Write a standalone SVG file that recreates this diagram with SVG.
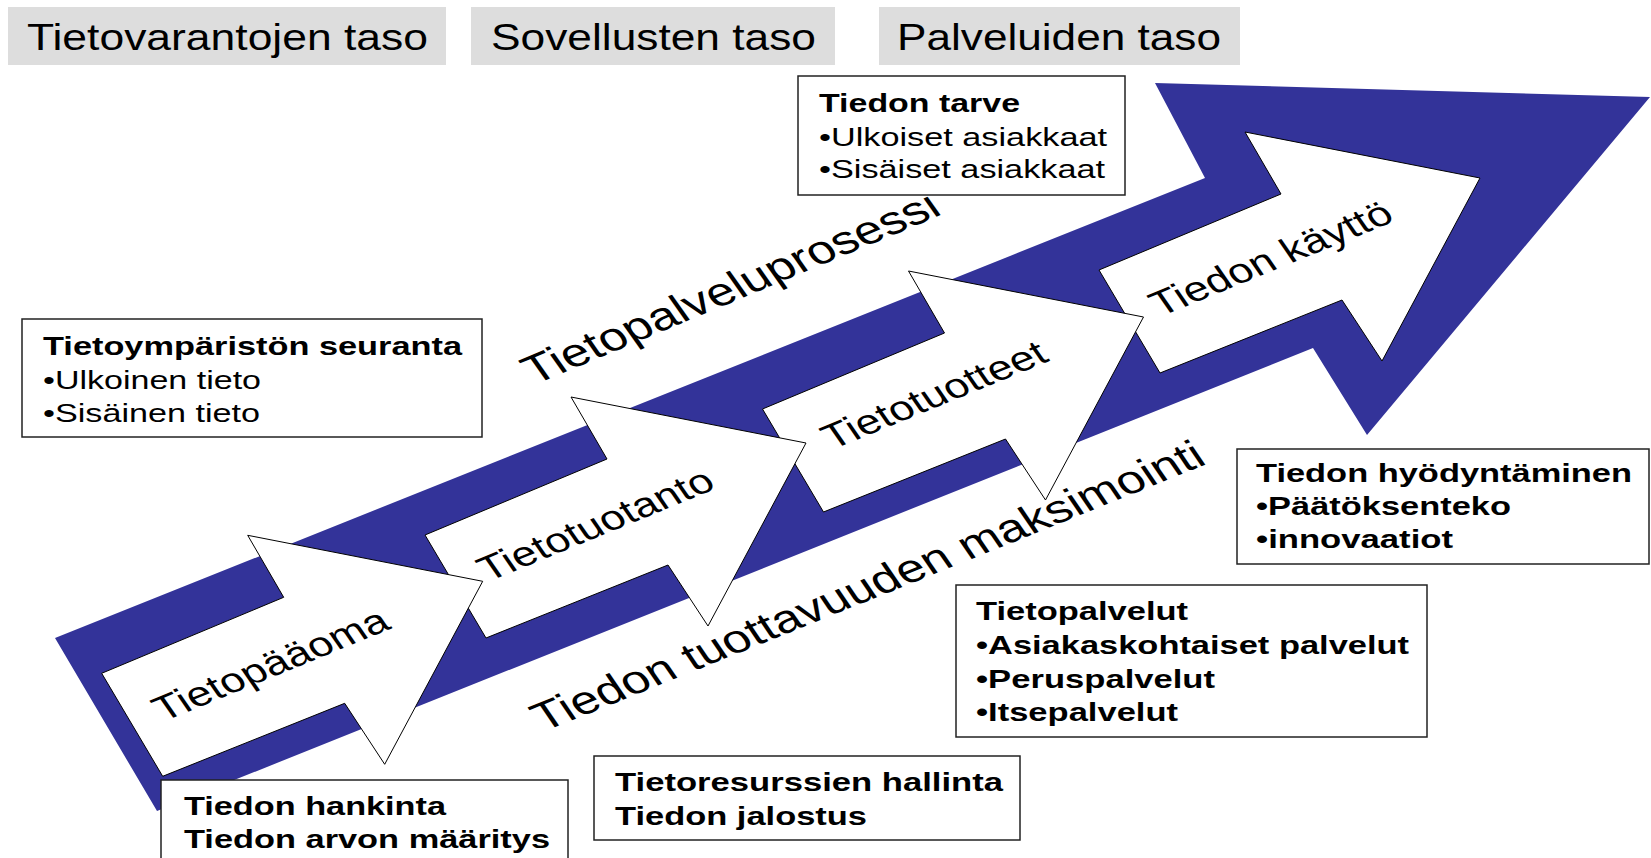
<svg xmlns="http://www.w3.org/2000/svg" xmlns:xlink="http://www.w3.org/1999/xlink" width="1651" height="858" viewBox="0 0 1651 858">
<style>
text{font-family:"Liberation Sans",Arial,sans-serif;fill:#000}
.lvl{fill:#dddddd}
.lvlt{font-size:36px}
.box{fill:#fff;stroke:#222;stroke-width:1.5}
.bt{font-size:26px}
.b{font-weight:bold}
.arr{fill:#fff;stroke:#000;stroke-width:1}
.al{font-size:34.5px}
.pl{font-size:39.5px}
.band{fill:#333399}
</style>
<defs>
<polygon id="arrowShape" points="0,0 182,-76 146,-138 381,-92 283,91 243,30 61,103"/>
</defs>
<rect width="1651" height="858" fill="#fff"/>

<g id="level-tietovarannot"><rect class="lvl" x="8" y="7" width="438" height="58"/><text class="lvlt" x="27" y="50" textLength="401" lengthAdjust="spacingAndGlyphs">Tietovarantojen taso</text></g>
<g id="level-sovellukset"><rect class="lvl" x="471" y="7" width="364" height="58"/><text class="lvlt" x="491" y="50" textLength="325" lengthAdjust="spacingAndGlyphs">Sovellusten taso</text></g>
<g id="level-palvelut"><rect class="lvl" x="879" y="7" width="361" height="58"/><text class="lvlt" x="897" y="50" textLength="324" lengthAdjust="spacingAndGlyphs">Palveluiden taso</text></g>

<g id="process-band">
<polygon class="band" points="55,638 1205,178 1155,83 1650,97 1367,435 1313,348 157,811"/>
</g>

<g id="connectors"/>

<g id="arrow-tiedon-kaytto">
<use xlink:href="#arrowShape" href="#arrowShape" class="arr" transform="translate(1099,270)"/>
<text class="al" transform="translate(1160,317) scale(1.3,1) rotate(-28)">Tiedon käyttö</text>
</g>
<g id="arrow-tietotuotteet">
<use xlink:href="#arrowShape" href="#arrowShape" class="arr" transform="translate(762.5,409)"/>
<text class="al" transform="translate(832,450) scale(1.3,1) rotate(-28)">Tietotuotteet</text>
</g>
<g id="arrow-tietotuotanto">
<use xlink:href="#arrowShape" href="#arrowShape" class="arr" transform="translate(425,535)"/>
<text class="al" transform="translate(488,582) scale(1.3,1) rotate(-28)">Tietotuotanto</text>
</g>
<g id="arrow-tietopaaoma">
<use xlink:href="#arrowShape" href="#arrowShape" class="arr" transform="translate(101.7,673.3)"/>
<text class="al" transform="translate(163,722) scale(1.3,1) rotate(-28)">Tietopääoma</text>
</g>

<g id="label-tietopalveluprosessi">
<text class="pl" transform="translate(534,385) scale(1.3,1) rotate(-28.5)">Tietopalveluprosessi</text>
</g>
<g id="label-tuottavuus">
<text class="pl" transform="translate(543,732) scale(1.3,1) rotate(-27.7)">Tiedon tuottavuuden maksimointi</text>
</g>

<g id="box-tiedon-tarve">
<rect class="box" x="798" y="76" width="327" height="119"/>
<text class="bt b" x="819" y="112" textLength="201" lengthAdjust="spacingAndGlyphs">Tiedon tarve</text>
<text class="bt" x="819" y="146" textLength="288" lengthAdjust="spacingAndGlyphs">•Ulkoiset asiakkaat</text>
<text class="bt" x="819" y="178" textLength="286" lengthAdjust="spacingAndGlyphs">•Sisäiset asiakkaat</text>
</g>

<g id="box-seuranta">
<rect class="box" x="22" y="319" width="460" height="118"/>
<text class="bt b" x="43" y="355" textLength="419" lengthAdjust="spacingAndGlyphs">Tietoympäristön seuranta</text>
<text class="bt" x="43" y="389" textLength="218" lengthAdjust="spacingAndGlyphs">•Ulkoinen tieto</text>
<text class="bt" x="43" y="422" textLength="217" lengthAdjust="spacingAndGlyphs">•Sisäinen tieto</text>
</g>

<g id="box-hyodyntaminen">
<rect class="box" x="1237" y="449" width="412" height="115"/>
<text class="bt b" x="1256" y="482" textLength="376" lengthAdjust="spacingAndGlyphs">Tiedon hyödyntäminen</text>
<text class="bt b" x="1256" y="515" textLength="255" lengthAdjust="spacingAndGlyphs">•Päätöksenteko</text>
<text class="bt b" x="1256" y="548" textLength="197" lengthAdjust="spacingAndGlyphs">•innovaatiot</text>
</g>

<g id="box-tietopalvelut">
<rect class="box" x="956" y="585" width="471" height="152"/>
<text class="bt b" x="976" y="620" textLength="212" lengthAdjust="spacingAndGlyphs">Tietopalvelut</text>
<text class="bt b" x="976" y="654" textLength="433" lengthAdjust="spacingAndGlyphs">•Asiakaskohtaiset palvelut</text>
<text class="bt b" x="976" y="688" textLength="239" lengthAdjust="spacingAndGlyphs">•Peruspalvelut</text>
<text class="bt b" x="976" y="721" textLength="202" lengthAdjust="spacingAndGlyphs">•Itsepalvelut</text>
</g>

<g id="box-resurssit">
<rect class="box" x="594" y="756" width="426" height="84"/>
<text class="bt b" x="615" y="791" textLength="388" lengthAdjust="spacingAndGlyphs">Tietoresurssien hallinta</text>
<text class="bt b" x="615" y="825" textLength="252" lengthAdjust="spacingAndGlyphs">Tiedon jalostus</text>
</g>

<g id="box-hankinta">
<rect class="box" x="161" y="780" width="407" height="95"/>
<text class="bt b" x="184" y="815" textLength="262" lengthAdjust="spacingAndGlyphs">Tiedon hankinta</text>
<text class="bt b" x="184" y="848" textLength="366" lengthAdjust="spacingAndGlyphs">Tiedon arvon määritys</text>
</g>
</svg>
